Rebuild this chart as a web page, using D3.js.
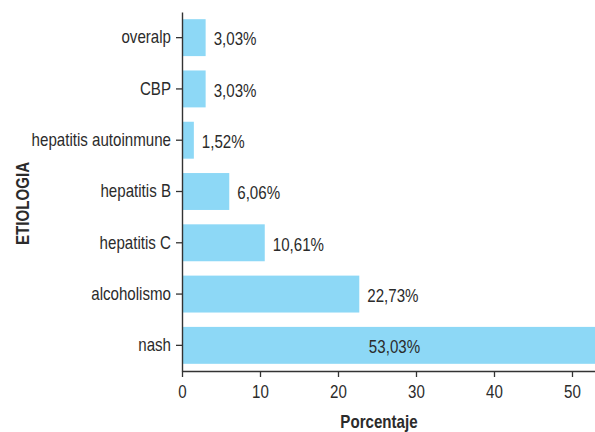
<!DOCTYPE html>
<html>
<head>
<meta charset="utf-8">
<script src="https://cdn.jsdelivr.net/npm/d3@7"></script>
<style>
  html, body { margin: 0; padding: 0; background: #fff; }
  svg { display: block; }
  text { font-family: "Liberation Sans", Arial, sans-serif; fill: #2b2b2b; }
</style>
</head>
<body>
<svg id="chart" width="595" height="432"></svg>
<script>
// Etiología: porcentaje de casos por causa
const categories = ["overalp", "CBP", "hepatitis autoinmune", "hepatitis B", "hepatitis C", "alcoholismo", "nash"];
const values = [3.03, 3.03, 1.52, 6.06, 10.61, 22.73, 53.03];
const xTicks = [0, 10, 20, 30, 40, 50];
const xTitle = "Porcentaje";
const yTitle = "ETIOLOGIA";

const W = 595, H = 432;
const plot = { left: 182, top: 12, bottom: 371, right: W };
const FONT = 18, NARROW = 0.84;
const barColor = "#8dd8f6";
const inkColor = "#333";

const es = d3.formatLocale({ decimal: ",", thousands: ".", grouping: [3], currency: ["", " €"] });
const pct = v => es.format(".2f")(v) + "%";

const svg = d3.select("#chart");

const x = d3.scaleLinear().domain([0, 52.95]).range([plot.left, plot.right]);
const y = d3.scaleBand().domain(categories).range([plot.top, plot.bottom])
  .paddingInner(0.28).paddingOuter(0.14);

const data = categories.map((c, i) => ({ cat: c, value: values[i] }));

// condensed lettering: squeeze each label horizontally around its anchor
function condense(sel, k) {
  sel.each(function () {
    const t = d3.select(this);
    const tx = +t.attr("x") || 0;
    t.attr("x", 0).attr("transform", `translate(${tx},0) scale(${k},1)`);
  });
}

// bars
svg.append("g").selectAll("rect").data(data).join("rect")
  .attr("x", x(0))
  .attr("y", d => y(d.cat))
  .attr("width", d => x(d.value) - x(0))
  .attr("height", y.bandwidth())
  .attr("fill", barColor);

// value labels: beside the bar, or inside when the bar runs past the plot
svg.append("g").selectAll("text").data(data).join("text")
  .attr("y", d => y(d.cat) + y.bandwidth() / 2 + 2)
  .attr("dy", "0.32em")
  .attr("font-size", FONT)
  .each(function (d) {
    const inside = x(d.value) > plot.right;
    const tx = inside ? (x(0) + plot.right) / 2 + 6 : x(d.value) + 8;
    d3.select(this)
      .attr("text-anchor", inside ? "middle" : "start")
      .attr("transform", `translate(${tx},0) scale(${NARROW},1)`);
  })
  .text(d => pct(d.value));

// y axis
const gy = svg.append("g")
  .attr("transform", `translate(${plot.left},0)`)
  .call(d3.axisLeft(y).tickSize(6).tickPadding(5).tickSizeOuter(0));
gy.select(".domain").attr("stroke", inkColor).attr("stroke-width", 1.4);
gy.selectAll(".tick line").attr("stroke", inkColor).attr("stroke-width", 1.3);
gy.selectAll(".tick text").attr("font-size", FONT).attr("font-family", null).attr("fill", "#2b2b2b")
  .call(condense, NARROW);

// x axis
const gx = svg.append("g")
  .attr("transform", `translate(0,${plot.bottom})`)
  .call(d3.axisBottom(x).tickValues(xTicks).tickFormat(d3.format("d"))
    .tickSize(6).tickPadding(8).tickSizeOuter(0));
gx.select(".domain").attr("stroke", inkColor).attr("stroke-width", 1.4);
gx.selectAll(".tick line").attr("stroke", inkColor).attr("stroke-width", 1.3);
gx.selectAll(".tick text").attr("font-size", FONT).attr("font-family", null).attr("fill", "#2b2b2b")
  .call(condense, NARROW);

// axis titles
svg.append("text")
  .attr("text-anchor", "middle")
  .attr("font-size", FONT)
  .attr("font-weight", "bold")
  .attr("transform", `translate(${(x(0) + x(50)) / 2 + 2},428) scale(${NARROW},1)`)
  .text(xTitle);

svg.append("text")
  .attr("text-anchor", "middle")
  .attr("font-size", FONT)
  .attr("font-weight", "bold")
  .attr("transform", `translate(29,${(plot.top + plot.bottom) / 2 + 12}) rotate(-90) scale(${NARROW},1)`)
  .text(yTitle);
</script>
</body>
</html>
